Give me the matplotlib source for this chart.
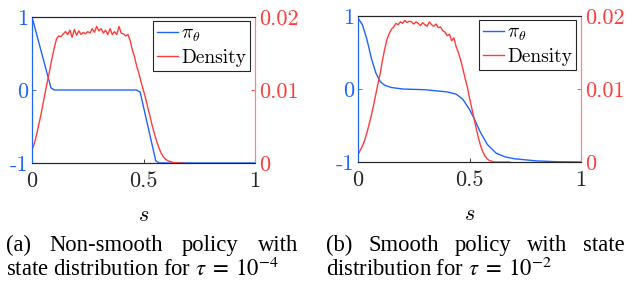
import numpy as np
import matplotlib
matplotlib.use("Agg")
import matplotlib.pyplot as plt

plt.rcParams['mathtext.fontset'] = 'cm'

W, H = 626, 286
BLUE = '#1e64ff'
RED = '#ff3c3c'

# policy curves
s_pi_a = [0, 0.085, 0.10, 0.47, 0.485, 0.555, 0.57, 1.0]
pi_a = [1.0, 0.03, 0.0, 0.0, -0.03, -0.97, -1.0, -1.0]

s_pi_b = [0, 0.02, 0.04, 0.06, 0.08, 0.10, 0.12, 0.15, 0.2, 0.3, 0.4, 0.44, 0.47,
          0.5, 0.52, 0.55, 0.58, 0.62, 0.66, 0.7, 0.8, 0.9, 1.0]
pi_b = [0.97, 0.88, 0.68, 0.42, 0.22, 0.10, 0.05, 0.02, 0.0, -0.01, -0.04, -0.07, -0.14,
        -0.28, -0.40, -0.60, -0.76, -0.88, -0.93, -0.955, -0.985, -0.997, -1.0]

# state densities, sampled every 0.01 from 0 to 0.68
s_dens = np.linspace(0, 0.68, 69)
dens_a = [0.0018, 0.0026, 0.0038, 0.0052, 0.0066, 0.0082, 0.0098, 0.0113, 0.0128, 0.0144,
          0.0158, 0.0170, 0.0174, 0.0173, 0.0177, 0.0180, 0.0176, 0.0182, 0.0172, 0.0183,
          0.0175, 0.0181, 0.0176, 0.0179, 0.0177, 0.0180, 0.0178, 0.0184, 0.0179, 0.0187,
          0.0181, 0.0184, 0.0178, 0.0182, 0.0176, 0.0184, 0.0176, 0.0180, 0.0176, 0.0187,
          0.0178, 0.0177, 0.0174, 0.0176, 0.0168, 0.0155, 0.0145, 0.0132, 0.0122, 0.0110,
          0.0099, 0.0088, 0.0075, 0.0063, 0.0050, 0.0039, 0.0029, 0.0020, 0.0013, 0.0008,
          0.0005, 0.0003, 0.0002, 0.0001, 0.00005, 0.0, 0.0, 0.0, 0.0]
dens_b = [0.0010, 0.0016, 0.0022, 0.0030, 0.0040, 0.0052, 0.0064, 0.0078, 0.0093, 0.0108,
          0.0122, 0.0140, 0.0155, 0.0168, 0.0176, 0.0182, 0.0185, 0.0190, 0.0188, 0.0192,
          0.0190, 0.0194, 0.0191, 0.0193, 0.0192, 0.0189, 0.0192, 0.0190, 0.0187, 0.0191,
          0.0188, 0.0186, 0.0192, 0.0188, 0.0186, 0.0189, 0.0184, 0.0185, 0.0180, 0.0178,
          0.0173, 0.0175, 0.0166, 0.0170, 0.0158, 0.0150, 0.0140, 0.0128, 0.0115, 0.0103,
          0.0088, 0.0074, 0.0060, 0.0046, 0.0033, 0.0022, 0.0014, 0.0008, 0.0004, 0.0002,
          0.0001, 0.0, 0.0, 0.0, 0.0, 0.0, 0.0, 0.0, 0.0]

xticks = [0, 0.5, 1]
xticklabels = ['0', '0.5', '1']
yticks = [-1, 0, 1]
yticklabels = ['-1', '0', '1']
y2ticks = [0, 0.01, 0.02]
y2ticklabels = ['0', '0.01', '0.02']

fig = plt.figure(figsize=(W / 100, H / 100), dpi=100)


def panel(x0, top, s_pi, pi, dens):
    ax = fig.add_axes([x0 / W, (H - top - 146) / H, 223 / W, 146 / H])
    ax2 = ax.twinx()
    l1, = ax.plot(s_pi, pi, color=BLUE, lw=1.0)
    l2, = ax2.plot(s_dens, dens, color=RED, lw=1.0)
    ax.set_xlim(0, 1)
    ax.set_ylim(-1, 1)
    ax2.set_ylim(0, 0.02)
    ax.set_xticks(xticks)
    ax.set_xticklabels(xticklabels, family='cmr10', fontsize=16, color='#262626')
    ax.set_yticks(yticks)
    ax.set_yticklabels(yticklabels, family='cmr10', fontsize=16, color=BLUE)
    ax2.set_yticks(y2ticks)
    ax2.set_yticklabels(y2ticklabels, family='cmr10', fontsize=16, color=RED)
    ax.tick_params(axis='x', direction='in', length=3, width=0.6, colors='#262626', pad=6)
    ax.tick_params(axis='y', direction='in', length=3, width=0.6, colors=BLUE, pad=3)
    ax2.tick_params(axis='y', direction='in', length=3, width=0.6, colors=RED, pad=3)
    for a in (ax, ax2):
        a.spines['top'].set_color('#262626')
        a.spines['bottom'].set_color('#262626')
        a.spines['left'].set_color(BLUE)
        a.spines['right'].set_color('#ff8080')
        for sp in a.spines.values():
            sp.set_linewidth(0.8)
    ax.set_xlabel('$s$', fontsize=16, labelpad=10)
    leg = ax2.legend([l1, l2], [r'$\pi_\theta$', 'Density'], loc='upper right',
                     bbox_to_anchor=(0.978, 0.973), borderaxespad=0, fancybox=False,
                     framealpha=1, edgecolor='#262626', handlelength=1.1,
                     handletextpad=0.15, borderpad=0.2, labelspacing=0.25,
                     prop={'family': 'cmr10', 'size': 14})
    leg.get_frame().set_linewidth(0.8)
    return ax


panel(32, 17, s_pi_a, pi_a, dens_a)
panel(358, 16, s_pi_b, pi_b, dens_b)

cap = dict(family='Liberation Serif', fontsize=16.3, math_fontfamily='stix', va='baseline')
fig.canvas.draw()
renderer = fig.canvas.get_renderer()


def justified(words, x0, x1, y):
    texts = [fig.text(0, 1 - y / H, w, **cap) for w in words]
    widths = [t.get_window_extent(renderer).width for t in texts]
    gap = (x1 - x0 - sum(widths)) / (len(words) - 1)
    x = x0
    for t, w in zip(texts, widths):
        t.set_x(x / W)
        x += w + gap


justified(['(a)', 'Non-smooth', 'policy', 'with'], 6, 298, 251)
fig.text(6 / W, 1 - 276 / H, r'state distribution for $\tau\;=\;10^{-4}$', **cap)
justified(['(b)', 'Smooth', 'policy', 'with', 'state'], 326, 625, 251)
fig.text(326 / W, 1 - 276 / H, r'distribution for $\tau\;=\;10^{-2}$', **cap)

fig.savefig('out.png', dpi=100)
